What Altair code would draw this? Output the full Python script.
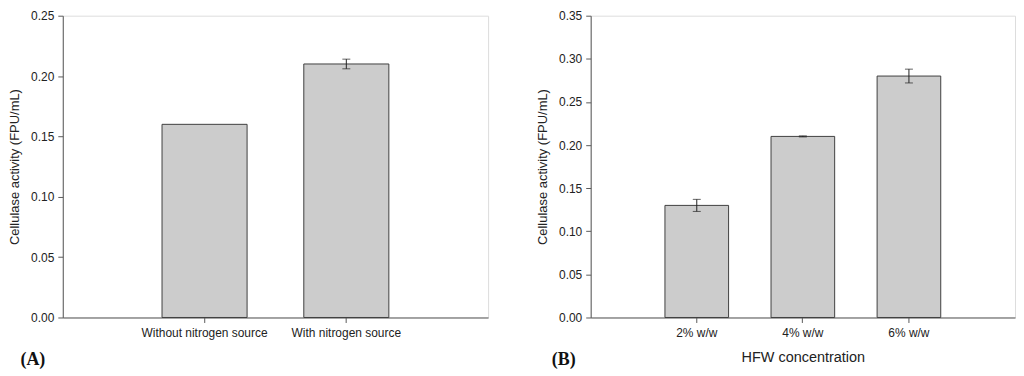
import altair as alt
import pandas as pd

# ---- data ----
cat_a = ["Without nitrogen source", "With nitrogen source"]
val_a = [0.16, 0.21]
err_a = [0.0, 0.004]

cat_b = ["2% w/w", "4% w/w", "6% w/w"]
val_b = [0.13, 0.21, 0.28]
err_b = [0.007, 0.0006, 0.008]

y_title = "Cellulase activity (FPU/mL)"
x_title_b = "HFW concentration"
panel_a = "(A)"
panel_b = "(B)"

FONT = "Liberation Sans"
LINE = "#5a5a5a"


def panel(cats, vals, errs, ymax, tag, xtitle, w, h, tag_x):
    df = pd.DataFrame({"cat": cats, "val": vals, "err": errs})
    df["lo"] = df["val"] - df["err"]
    df["hi"] = df["val"] + df["err"]
    base = alt.Chart(df)
    x = alt.X(
        "cat:N",
        sort=cats,
        scale=alt.Scale(paddingInner=0.4, paddingOuter=0.7),
        axis=alt.Axis(
            title=xtitle if xtitle else None,
            labelAngle=0,
            labelFontSize=12,
            labelFont=FONT,
            labelColor="#222222",
            labelPadding=5,
            tickSize=5,
            tickColor=LINE,
            domainColor=LINE,
            titleFont=FONT,
            titleFontSize=14.5,
            titleFontWeight="normal",
            titleColor="#222222",
            titlePadding=12,
        ),
    )
    yscale = alt.Scale(domain=[0, ymax], nice=False, zero=True)
    ticks = [round(i * 0.05, 2) for i in range(int(round(ymax / 0.05)) + 1)]
    bars = base.mark_bar(fill="#cccccc", stroke="#404040", strokeWidth=1).encode(
        x=x,
        y=alt.Y(
            "val:Q",
            scale=yscale,
            axis=alt.Axis(
                title=y_title,
                values=ticks,
                format=".2f",
                grid=False,
                labelFontSize=12,
                labelFont=FONT,
                labelColor="#222222",
                labelPadding=4,
                tickSize=5,
                tickColor=LINE,
                domainColor=LINE,
                titleFont=FONT,
                titleFontSize=13,
                titleFontWeight="normal",
                titleColor="#222222",
                titlePadding=9,
            ),
        ),
    )
    eb = base.transform_filter("datum.err > 0")
    rule = eb.mark_rule(color="#222222", strokeWidth=1).encode(
        x=alt.X("cat:N", sort=cats), y=alt.Y("lo:Q", scale=yscale), y2="hi:Q"
    )
    cap_lo = eb.mark_tick(color="#222222", thickness=1, size=8).encode(
        x=alt.X("cat:N", sort=cats), y=alt.Y("lo:Q", scale=yscale)
    )
    cap_hi = eb.mark_tick(color="#222222", thickness=1, size=8).encode(
        x=alt.X("cat:N", sort=cats), y=alt.Y("hi:Q", scale=yscale)
    )
    lab = alt.Chart(pd.DataFrame({"t": [tag]})).mark_text(
        font="Liberation Serif", fontWeight="bold", fontSize=18,
        align="center", baseline="middle", color="#111111"
    ).encode(text="t:N", x=alt.value(tag_x), y=alt.value(h + 43))
    return alt.layer(bars, rule, cap_lo, cap_hi, lab).properties(width=w, height=h)


a = panel(cat_a, val_a, err_a, 0.25, panel_a, None, 427, 303, -30)
b = panel(cat_b, val_b, err_b, 0.35, panel_b, x_title_b, 426, 303, -27)

chart = (
    alt.hconcat(a, b, spacing=47)
    .resolve_scale(x="independent", y="independent")
    .configure_view(stroke=LINE, strokeWidth=1.3)
    .configure(background="white", padding=0)
)

chart.save("out.html", embed_options={"renderer": "svg", "actions": False})
